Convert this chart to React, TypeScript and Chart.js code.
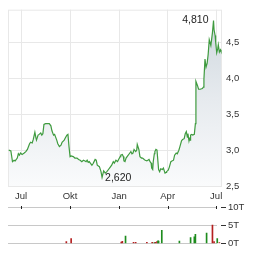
import React, { useEffect, useRef } from 'react';
import { Chart, registerables } from 'chart.js';

Chart.register(...registerables);

// x values are days counted from 1 Jul 2023
const priceDays = [
  -23, -19, -16, -13, -11, -7, -5, -3, -1, 2, 6, 9, 12, 16, 18, 21, 23, 26, 28, 29, 32, 34, 37, 39, 41, 43, 46, 49, 53, 56,
  58, 61, 63, 67, 69, 72, 75, 77, 81, 83, 86, 88, 90, 92, 94, 98, 101, 105, 108, 111, 114, 117, 120, 122, 124, 126, 128, 130, 133, 135,
  137, 139, 141, 143, 147, 150, 152, 155, 156, 158, 161, 164, 167, 170, 173, 175, 178, 181, 183, 186, 187, 190, 192, 193, 195, 197, 200, 203, 206, 208,
  210, 212, 215, 217, 218, 221, 223, 226, 228, 231, 233, 236, 240, 242, 244, 245, 247, 248, 250, 251, 253, 255, 256, 258, 260, 262, 265, 267, 270, 272,
  273, 276, 278, 281, 283, 286, 288, 291, 293, 296, 298, 301, 303, 306, 308, 310, 312, 313, 315, 316, 317, 318, 320, 322, 325, 327, 328, 331, 333, 336,
  340, 342, 343, 345, 347, 349, 351, 353, 356, 358, 359, 361, 362, 364, 365, 367, 369, 370, 372, 374, 375,
];
const priceValues = [
  3.0, 2.99, 2.84, 2.86, 2.85, 2.89, 2.95, 2.93, 2.96, 2.94, 2.96, 2.98, 3.01, 3.09, 3.11, 3.1, 3.15, 3.25, 3.17, 3.14, 3.21, 3.22, 3.24, 3.21, 3.23, 3.36, 3.37, 3.37, 3.37, 3.34,
  3.27, 3.21, 3.22, 3.14, 3.09, 3.05, 3.07, 3.11, 3.14, 3.17, 3.21, 3.22, 3.05, 2.91, 2.92, 2.91, 2.89, 2.89, 2.87, 2.86, 2.84, 2.86, 2.85, 2.84, 2.86, 2.83, 2.84, 2.82, 2.79, 2.81,
  2.84, 2.87, 2.86, 2.79, 2.77, 2.7, 2.62, 2.71, 2.7, 2.68, 2.7, 2.73, 2.76, 2.79, 2.84, 2.82, 2.86, 2.84, 2.87, 2.91, 2.93, 2.94, 2.91, 2.85, 2.84, 2.89, 2.92, 2.95, 2.98, 2.95,
  2.96, 3.01, 2.98, 3.0, 3.08, 3.01, 2.91, 2.89, 2.89, 2.87, 2.86, 2.85, 2.87, 2.84, 2.82, 2.75, 2.73, 2.84, 2.95, 2.98, 3.01, 3.0, 2.91, 2.73, 2.7, 2.74, 2.73, 2.75, 2.68, 2.69,
  2.7, 2.72, 2.76, 2.84, 2.85, 2.86, 2.93, 2.96, 2.95, 3.0, 3.05, 3.13, 3.15, 3.16, 3.23, 3.26, 3.18, 3.23, 3.13, 3.16, 3.14, 3.21, 3.22, 3.21, 3.22, 3.37, 3.96, 3.9, 3.85, 3.85,
  3.86, 3.88, 3.99, 4.27, 4.16, 4.21, 4.34, 4.54, 4.46, 4.58, 4.64, 4.81, 4.68, 4.6, 4.51, 4.36, 4.42, 4.47, 4.37, 4.4, 4.38,
];

const volDays = [85, 94, 188, 190, 196, 211, 215, 236, 246, 250, 252, 255, 257, 258, 264, 297, 318, 325, 327, 348, 359, 362, 368, 372];
const volValues = [500, 1300, 350, 550, 2000, 300, 300, 300, 300, 200, 300, 450, 700, 600, 3600, 600, 1600, 1800, 2500, 2800, 5000, 500, 1300, 200];
const volUp = [false, false, false, false, true, false, false, false, false, true, false, false, true, true, true, true, true, true, true, true, false, false, true, false];

const monthTickDays = [0, 92, 184, 275, 366];
const monthTickLabels = ['Jul', 'Okt', 'Jan', 'Apr', 'Jul'];
const priceTicks = [2.5, 3.0, 3.5, 4.0, 4.5];
const volTicks = [0, 5000, 10000];

const X_MIN = -24.4;
const X_MAX = 376.9;
const FONT = '"Liberation Sans", Arial, sans-serif';
const GRID = '#e8e8e8';
const LABEL = '#333333';

const fmt = (v: number, d: number) => v.toFixed(d).replace('.', ',');

export default function App() {
  const priceRef = useRef<HTMLCanvasElement>(null);
  const volRef = useRef<HTMLCanvasElement>(null);

  useEffect(() => {
    const priceDecor = {
      id: 'priceDecor',
      beforeDatasetsDraw(chart: any) {
        const { ctx, chartArea } = chart;
        ctx.save();
        ctx.strokeStyle = GRID;
        ctx.lineWidth = 1;
        ctx.strokeRect(chartArea.left + 0.5, chartArea.top + 0.5, chartArea.right - chartArea.left - 1, chartArea.bottom - chartArea.top - 1);
        ctx.restore();
      },
      afterDatasetsDraw(chart: any) {
        const { ctx, scales } = chart;
        let maxI = 0;
        let minI = 0;
        priceValues.forEach((v, i) => {
          if (v > priceValues[maxI]) maxI = i;
          if (v < priceValues[minI]) minI = i;
        });
        ctx.save();
        ctx.font = `10.5px ${FONT}`;
        ctx.fillStyle = '#222222';
        ctx.textBaseline = 'middle';
        const mx = scales.x.getPixelForValue(priceDays[maxI]);
        const my = scales.y.getPixelForValue(priceValues[maxI]);
        ctx.textAlign = 'right';
        ctx.fillText(fmt(priceValues[maxI], 3), mx - 5, my);
        const nx = scales.x.getPixelForValue(priceDays[minI]);
        const ny = scales.y.getPixelForValue(priceValues[minI]);
        ctx.textAlign = 'left';
        ctx.fillText(fmt(priceValues[minI], 3), nx + 3, ny + 1);
        ctx.restore();
      },
    };

    const priceChart = new Chart(priceRef.current!, {
      type: 'line',
      data: {
        datasets: [
          {
            data: priceDays.map((d, i) => ({ x: d, y: priceValues[i] })),
            borderColor: '#3f9b3f',
            borderWidth: 1.2,
            pointRadius: 0,
            tension: 0,
            fill: 'start',
            backgroundColor: (c: any) => {
              const area = c.chart.chartArea;
              if (!area) return 'rgba(210,218,225,0.6)';
              const g = c.chart.ctx.createLinearGradient(0, area.top, 0, area.bottom);
              g.addColorStop(0, '#cdd6dd');
              g.addColorStop(0.5, '#e6eaee');
              g.addColorStop(1, '#fafbfc');
              return g;
            },
          },
        ],
      },
      options: {
        animation: false,
        responsive: false,
        events: [],
        layout: { padding: { left: 8, top: 7, right: 0, bottom: 0 } },
        plugins: { legend: { display: false }, tooltip: { enabled: false } },
        scales: {
          x: {
            type: 'linear',
            min: X_MIN,
            max: X_MAX,
            afterBuildTicks: (s: any) => {
              s.ticks = monthTickDays.map((v) => ({ value: v }));
            },
            afterFit: (s: any) => {
              s.height = 19;
            },
            grid: { color: GRID, drawTicks: false },
            border: { display: false },
            ticks: {
              padding: 5,
              maxRotation: 0,
              autoSkip: false,
              color: LABEL,
              font: { family: FONT, size: 9.5 },
              callback: (v: any) => {
                const i = monthTickDays.indexOf(Number(v));
                return i >= 0 ? monthTickLabels[i] : '';
              },
            },
          },
          y: {
            type: 'linear',
            position: 'right',
            min: 2.5,
            max: 4.96,
            afterBuildTicks: (s: any) => {
              s.ticks = priceTicks.map((v) => ({ value: v }));
            },
            afterFit: (s: any) => {
              s.width = 42;
            },
            grid: { color: GRID, drawTicks: false },
            border: { display: false },
            ticks: {
              padding: 4,
              color: LABEL,
              font: { family: FONT, size: 9.5 },
              callback: (v: any) => fmt(Number(v), 1),
            },
          },
        },
      },
      plugins: [priceDecor],
    } as any);

    const volDecor = {
      id: 'volDecor',
      beforeDatasetsDraw(chart: any) {
        const { ctx, chartArea, scales } = chart;
        ctx.save();
        volTicks.forEach((t) => {
          const y = Math.round(scales.y.getPixelForValue(t)) + 0.5;
          ctx.strokeStyle = '#c8c8c8';
          ctx.lineWidth = 1;
          ctx.beginPath();
          ctx.moveTo(chartArea.left, y);
          ctx.lineTo(chartArea.right - 5, y);
          ctx.stroke();
          ctx.strokeStyle = LABEL;
          ctx.beginPath();
          ctx.moveTo(chartArea.right - 1, y);
          ctx.lineTo(chartArea.right + 4, y);
          ctx.stroke();
        });
        const topY = Math.round(scales.y.getPixelForValue(volTicks[volTicks.length - 1]));
        ctx.strokeStyle = '#222222';
        monthTickDays.forEach((d) => {
          const x = Math.round(scales.x.getPixelForValue(d)) + 0.5;
          ctx.beginPath();
          ctx.moveTo(x, topY - 1);
          ctx.lineTo(x, topY + 2);
          ctx.stroke();
        });
        ctx.restore();
      },
    };

    const volChart = new Chart(volRef.current!, {
      type: 'bar',
      data: {
        datasets: [
          {
            data: volDays.map((d, i) => ({ x: d, y: volValues[i] })),
            backgroundColor: volUp.map((u) => (u ? '#1e8c1e' : '#b52020')),
            barThickness: 1,
            borderWidth: 0,
          },
        ],
      },
      options: {
        animation: false,
        responsive: false,
        events: [],
        layout: { padding: { left: 8, top: 12, right: 0, bottom: 8 } },
        plugins: { legend: { display: false }, tooltip: { enabled: false } },
        scales: {
          x: {
            type: 'linear',
            min: X_MIN,
            max: X_MAX,
            display: false,
            offset: false,
          },
          y: {
            type: 'linear',
            position: 'right',
            min: 0,
            max: 10000,
            afterBuildTicks: (s: any) => {
              s.ticks = volTicks.map((v) => ({ value: v }));
            },
            afterFit: (s: any) => {
              s.width = 42;
            },
            grid: { display: false, drawTicks: false },
            border: { display: false },
            ticks: {
              padding: 6,
              color: LABEL,
              font: { family: FONT, size: 9.5 },
              callback: (v: any) => `${Number(v) / 1000}T`,
            },
          },
        },
      },
      plugins: [volDecor],
    } as any);

    return () => {
      priceChart.destroy();
      volChart.destroy();
    };
  }, []);

  return (
    <div style={{ position: 'absolute', left: 0, top: 0, width: 264, height: 255, background: '#ffffff' }}>
      <canvas ref={volRef} width={264} height={60} style={{ position: 'absolute', left: 0, top: 195, width: 264, height: 60 }} />
      <canvas ref={priceRef} width={264} height={205} style={{ position: 'absolute', left: 0, top: 0, width: 264, height: 205 }} />
    </div>
  );
}
